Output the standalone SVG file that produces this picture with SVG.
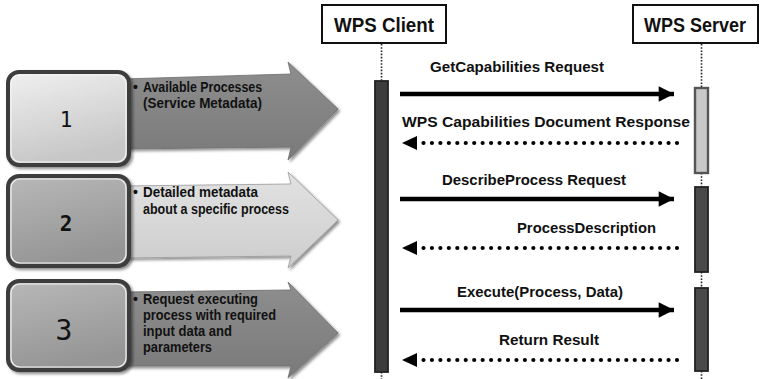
<svg xmlns="http://www.w3.org/2000/svg" width="760" height="379" viewBox="0 0 760 379">
  <defs>
    <linearGradient id="gBoxLight" x1="0" y1="0" x2="0.3" y2="1">
      <stop offset="0" stop-color="#f0f0f0"/>
      <stop offset="1" stop-color="#c6c6c6"/>
    </linearGradient>
    <linearGradient id="gBoxMid" x1="0" y1="0" x2="0.3" y2="1">
      <stop offset="0" stop-color="#b8b8b8"/>
      <stop offset="1" stop-color="#959595"/>
    </linearGradient>
    <linearGradient id="gArrowDark" x1="0" y1="0" x2="0" y2="1">
      <stop offset="0" stop-color="#8e8e8e"/>
      <stop offset="1" stop-color="#7a7a7a"/>
    </linearGradient>
    <linearGradient id="gArrowLight" x1="0" y1="0" x2="0" y2="1">
      <stop offset="0" stop-color="#e2e2e2"/>
      <stop offset="1" stop-color="#cdcdcd"/>
    </linearGradient>
    <filter id="shadow" x="-10%" y="-10%" width="125%" height="130%">
      <feGaussianBlur in="SourceAlpha" stdDeviation="1.5"/>
      <feOffset dx="1.5" dy="2" result="b"/>
      <feComponentTransfer><feFuncA type="linear" slope="0.45"/></feComponentTransfer>
      <feMerge><feMergeNode/><feMergeNode in="SourceGraphic"/></feMerge>
    </filter>
    <marker id="headSolid" viewBox="0 0 10 10" refX="10" refY="5" markerWidth="4" markerHeight="3.4" markerUnits="strokeWidth" orient="auto">
      <path d="M0,0 L10,5 L0,10 Z" fill="#000"/>
    </marker>
  </defs>
  <style>
    .step { font-family: "Liberation Sans", Arial, sans-serif; font-weight: bold; font-size: 14px; fill: #111; }
    .num { font-family: "DejaVu Sans Mono", "Liberation Mono", monospace; fill: #111; text-anchor: middle; }
    .actor { fill: #fff; stroke: #111; stroke-width: 2; }
    .actorText { font-family: "Liberation Sans", Arial, sans-serif; font-weight: bold; font-size: 21px; fill: #111; }
    .msg { font-family: "Liberation Sans", Arial, sans-serif; font-weight: bold; font-size: 15.5px; fill: #111; }
    .life { stroke: #222; stroke-width: 1.6; stroke-dasharray: 1.6 1.6; fill: none; }
    .bar { stroke: #222; stroke-width: 1.8; }
    .call { stroke: #000; stroke-width: 4.5; fill: none; }
    .reply { stroke: #000; stroke-width: 4.2; stroke-linecap: round; stroke-dasharray: 0 8.45; fill: none; }
    .stepFrame { stroke: #3c3c3c; stroke-width: 4; }
    .stepInner { fill: none; stroke: #f4f4f4; stroke-width: 1.2; }
  </style>

  <rect width="760" height="379" fill="#fff"/>

  <!-- step 1 -->
  <g id="step1">
    <path d="M122,79 L291,74 L288,62 L338,109 L288,160 L291,147 L122,149 Z" fill="url(#gArrowDark)" stroke="#6e6e6e" stroke-width="0.8" filter="url(#shadow)"/>
    <rect class="stepFrame" x="8" y="72" width="121" height="93" rx="11" fill="url(#gBoxLight)" filter="url(#shadow)"/>
    <rect class="stepInner" x="11" y="75" width="115" height="87" rx="9"/>
    <text class="num" x="66" y="127" font-size="21">1</text>
    <text class="step" x="133" y="92">• <tspan x="143" textLength="119" lengthAdjust="spacingAndGlyphs">Available Processes</tspan></text>
    <text class="step" x="143" y="108" textLength="119" lengthAdjust="spacingAndGlyphs">(Service Metadata)</text>
  </g>

  <!-- step 2 -->
  <g id="step2">
    <path d="M122,186 L291,184 L288,172 L338,220 L288,268 L291,256 L122,258 Z" fill="url(#gArrowLight)" stroke="#9a9a9a" stroke-width="0.8" filter="url(#shadow)"/>
    <rect class="stepFrame" x="8" y="176" width="121" height="90" rx="11" fill="url(#gBoxMid)" filter="url(#shadow)"/>
    <rect class="stepInner" x="11" y="179" width="115" height="84" rx="9"/>
    <text class="num" x="66" y="231" font-size="21" font-weight="bold">2</text>
    <text class="step" x="133" y="197">• <tspan x="143" textLength="115" lengthAdjust="spacingAndGlyphs">Detailed metadata</tspan></text>
    <text class="step" x="143" y="214" textLength="146" lengthAdjust="spacingAndGlyphs">about a specific process</text>
  </g>

  <!-- step 3 -->
  <g id="step3">
    <path d="M122,292 L291,290 L288,282 L338,333 L288,378 L291,366 L122,366 Z" fill="url(#gArrowDark)" stroke="#6e6e6e" stroke-width="0.8" filter="url(#shadow)"/>
    <rect class="stepFrame" x="8" y="281" width="121" height="89" rx="11" fill="url(#gBoxMid)" filter="url(#shadow)"/>
    <rect class="stepInner" x="11" y="284" width="115" height="83" rx="9"/>
    <text class="num" x="64" y="340" font-size="28" font-family="Liberation Sans, Arial, sans-serif">3</text>
    <text class="step" x="133" y="304">• <tspan x="143" textLength="115" lengthAdjust="spacingAndGlyphs">Request executing</tspan></text>
    <text class="step" x="143" y="320" textLength="133" lengthAdjust="spacingAndGlyphs">process with required</text>
    <text class="step" x="143" y="336" textLength="89" lengthAdjust="spacingAndGlyphs">input data and</text>
    <text class="step" x="143" y="352" textLength="69" lengthAdjust="spacingAndGlyphs">parameters</text>
  </g>

  <!-- WPS Client participant -->
  <g id="client">
    <rect class="actor" x="322" y="5" width="124" height="38"/>
    <text class="actorText" x="384" y="32" text-anchor="middle" textLength="100" lengthAdjust="spacingAndGlyphs">WPS Client</text>
    <line class="life" x1="381.5" y1="44" x2="381.5" y2="81"/>
    <line class="life" x1="381.5" y1="372" x2="381.5" y2="379"/>
    <rect class="bar" x="375" y="81" width="13" height="291" fill="#3c3c3c"/>
  </g>

  <!-- WPS Server participant -->
  <g id="server">
    <rect class="actor" x="633" y="5" width="125" height="38"/>
    <text class="actorText" x="695" y="32" text-anchor="middle" textLength="102" lengthAdjust="spacingAndGlyphs">WPS Server</text>
    <line class="life" x1="701.5" y1="44" x2="701.5" y2="87"/>
    <line class="life" x1="701.5" y1="173" x2="701.5" y2="186"/>
    <line class="life" x1="701.5" y1="272" x2="701.5" y2="287"/>
    <line class="life" x1="701.5" y1="371" x2="701.5" y2="379"/>
    <rect x="695" y="88" width="13" height="85" fill="#c8c8c8" stroke="#555" stroke-width="2.4"/>
    <rect class="bar" x="695" y="187" width="13" height="85" fill="#4a4a4a"/>
    <rect class="bar" x="695" y="288" width="13" height="83" fill="#4a4a4a"/>
  </g>

  <!-- messages -->
  <g id="connectors">
    <line class="call" x1="400" y1="94" x2="674" y2="94" marker-end="url(#headSolid)"/>
    <line class="reply" x1="677" y1="143" x2="420" y2="143"/>
    <path d="M402,143 L417,136 L417,150 Z" fill="#000"/>

    <line class="call" x1="400" y1="199" x2="674" y2="199" marker-end="url(#headSolid)"/>
    <line class="reply" x1="677" y1="248" x2="420" y2="248"/>
    <path d="M402,248 L417,241 L417,255 Z" fill="#000"/>

    <line class="call" x1="400" y1="310" x2="674" y2="310" marker-end="url(#headSolid)"/>
    <line class="reply" x1="677" y1="360" x2="420" y2="360"/>
    <path d="M402,360 L417,353 L417,367 Z" fill="#000"/>
  </g>

  <g id="messageLabels">
    <text class="msg" x="430" y="72" textLength="174" lengthAdjust="spacingAndGlyphs">GetCapabilities Request</text>
    <text class="msg" x="402" y="127" textLength="288" lengthAdjust="spacingAndGlyphs">WPS Capabilities Document Response</text>
    <text class="msg" x="442" y="185" textLength="184" lengthAdjust="spacingAndGlyphs">DescribeProcess Request</text>
    <text class="msg" x="517" y="233" textLength="139" lengthAdjust="spacingAndGlyphs">ProcessDescription</text>
    <text class="msg" x="457" y="297" textLength="166" lengthAdjust="spacingAndGlyphs">Execute(Process, Data)</text>
    <text class="msg" x="499" y="345" textLength="100" lengthAdjust="spacingAndGlyphs">Return Result</text>
  </g>
</svg>
